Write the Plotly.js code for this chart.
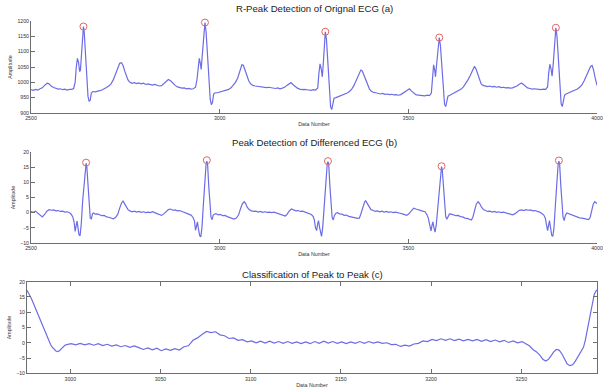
<!DOCTYPE html>
<html>
<head>
<meta charset="utf-8">
<script src="https://cdn.plot.ly/plotly-3.0.1.min.js"></script>
<style>html,body{margin:0;padding:0;background:#fff;}#chart{width:605px;height:392px;}</style>
</head>
<body>
<div id="chart"></div>
<script>
// ---- (a) original ECG ----
const ecgX = [2500,2506,2512,2518,2524,2530,2536,2543,2548,2554,2560,2566,2572,2578,2584,2590,2596,2602,2608,2613,2617,2620,2623,2626,2629,2631,2634,2637,2639,2641,2644,2648,2651,2654,2657,2660,2664,2670,2676,2682,2688,2694,2700,2706,2712,2718,2724,2730,2735,2740,2744,2748,2752,2757,2762,2768,2774,2780,2786,2792,2798,2804,2810,2816,2822,2828,2834,2840,2846,2852,2858,2864,2870,2876,2882,2888,2894,2900,2906,2912,2918,2924,2930,2936,2940,2943,2946,2949,2951,2954,2958,2961,2964,2968,2972,2975,2978,2981,2984,2988,2994,3000,3006,3012,3018,3024,3030,3036,3042,3048,3054,3059,3063,3067,3072,3077,3082,3088,3094,3100,3106,3112,3118,3124,3130,3136,3142,3148,3154,3160,3166,3172,3178,3184,3189,3194,3200,3206,3212,3218,3224,3230,3236,3242,3248,3254,3260,3263,3266,3269,3272,3274,3277,3280,3283,3287,3291,3294,3297,3300,3303,3308,3314,3320,3326,3332,3338,3344,3350,3356,3362,3368,3374,3378,3382,3387,3392,3397,3402,3408,3414,3420,3426,3432,3438,3444,3450,3456,3462,3468,3474,3480,3486,3492,3498,3503,3508,3514,3520,3526,3532,3538,3544,3550,3556,3561,3564,3567,3570,3572,3575,3579,3582,3585,3589,3593,3596,3599,3602,3605,3610,3616,3622,3628,3634,3640,3646,3652,3658,3664,3670,3675,3679,3683,3688,3693,3698,3704,3710,3716,3722,3728,3734,3740,3746,3752,3758,3764,3770,3776,3782,3788,3794,3800,3805,3810,3816,3822,3828,3834,3840,3846,3852,3858,3864,3869,3872,3875,3878,3881,3884,3888,3891,3894,3898,3902,3905,3908,3911,3914,3918,3924,3930,3936,3942,3948,3954,3960,3966,3972,3978,3983,3987,3991,3995,3999,4000];
const ecgY = [976,974,977,975,979,982,990,997,995,987,983,980,978,979,976,978,975,977,977,980,1000,1050,1078,1065,1035,1040,1110,1165,1182,1165,1100,1010,955,938,942,966,970,969,972,973,975,978,983,988,995,1008,1025,1045,1062,1064,1055,1038,1022,1008,1000,997,999,996,998,995,997,993,995,992,991,993,990,988,989,995,1003,1009,1005,997,990,985,983,981,982,979,980,978,979,984,1010,1050,1078,1060,1042,1090,1160,1195,1165,1080,990,945,927,935,962,966,966,968,970,972,975,977,982,990,1000,1015,1038,1058,1055,1040,1020,1005,995,990,988,987,986,984,985,983,984,982,981,980,982,979,981,984,990,996,999,993,986,981,978,976,977,975,975,974,976,975,982,1030,1060,1045,1018,1050,1120,1165,1140,1050,960,920,911,925,948,950,953,955,958,962,965,970,978,990,1005,1022,1040,1037,1025,1005,990,978,971,967,966,965,962,964,961,962,960,961,959,960,958,960,965,970,976,979,972,965,960,958,957,958,956,958,957,965,1020,1057,1040,1018,1060,1115,1146,1120,1040,960,928,921,940,955,958,962,965,970,975,978,985,995,1008,1022,1040,1052,1045,1030,1010,995,990,988,986,988,985,987,984,986,983,984,982,983,981,982,984,988,994,998,993,987,982,980,978,979,977,977,976,978,977,985,1030,1059,1045,1020,1060,1130,1178,1150,1060,970,930,921,935,958,962,965,968,972,975,978,984,992,1005,1020,1038,1052,1055,1040,1015,995,990];
const rPeakX = [2639,2961,3280,3582,3891];
const rPeakY = [1182,1195,1165,1146,1178];

// ---- (b) differenced ECG ----
const diffX = [2500,2506,2512,2518,2524,2530,2536,2542,2548,2554,2560,2566,2572,2578,2584,2590,2596,2602,2607,2611,2614,2617,2620,2622,2624,2627,2630,2633,2637,2641,2644,2646,2648,2651,2654,2657,2660,2663,2666,2670,2676,2682,2688,2694,2700,2706,2712,2718,2724,2730,2735,2740,2744,2748,2752,2757,2762,2768,2774,2780,2786,2792,2798,2804,2810,2816,2822,2828,2834,2840,2846,2852,2858,2864,2870,2876,2882,2888,2894,2900,2906,2912,2918,2924,2929,2933,2936,2939,2941,2944,2947,2950,2953,2957,2961,2964,2966,2968,2971,2974,2977,2980,2983,2986,2990,2996,3002,3008,3014,3020,3026,3032,3038,3044,3050,3055,3060,3065,3069,3073,3078,3084,3090,3096,3102,3108,3114,3120,3126,3132,3138,3144,3150,3156,3162,3168,3174,3179,3184,3190,3196,3202,3208,3214,3220,3226,3232,3238,3243,3248,3251,3254,3257,3260,3262,3265,3268,3270,3273,3277,3281,3285,3287,3289,3292,3295,3298,3301,3304,3308,3312,3318,3324,3330,3336,3342,3348,3354,3360,3366,3370,3374,3379,3384,3387,3391,3396,3401,3406,3412,3418,3424,3430,3436,3442,3448,3454,3460,3466,3472,3478,3484,3490,3496,3502,3508,3514,3520,3526,3532,3538,3544,3549,3553,3557,3560,3563,3565,3568,3571,3574,3578,3582,3586,3588,3590,3593,3596,3599,3602,3605,3609,3614,3620,3626,3632,3638,3644,3650,3656,3662,3667,3671,3675,3680,3685,3689,3694,3699,3704,3710,3716,3722,3728,3734,3740,3746,3752,3758,3764,3770,3776,3782,3788,3794,3800,3806,3812,3818,3824,3830,3836,3842,3848,3854,3859,3863,3866,3869,3872,3874,3877,3880,3883,3886,3890,3894,3897,3899,3901,3904,3907,3910,3913,3916,3920,3924,3930,3936,3942,3948,3954,3960,3966,3972,3978,3982,3986,3990,3994,3997,4000];
const diffY = [0.4,0.1,0.5,-0.2,-0.8,-1.4,-0.6,0.5,1.0,0.8,0.9,0.6,0.7,0.4,0.5,0.2,0.3,0.0,-0.6,-1.5,-3,-6.2,-4,-2.8,-4.5,-7.2,-7.6,-4,4,11,15.5,16.3,15,8,1,-1.8,-2.0,-0.3,-0.1,-0.5,-0.4,-0.8,-1.0,-0.9,-1.4,-1.5,-1.8,-2.0,-1.6,-0.5,1.5,3.2,3.8,3.0,1.8,1.0,0.6,0.3,0.5,0.2,0.4,0.1,0.3,0.0,0.2,0.0,0.3,-0.1,-0.3,-0.6,-0.9,-0.4,0.4,1.0,1.2,0.8,0.9,0.6,0.7,0.4,0.3,0.0,-0.3,-0.8,-1.5,-2.6,-5.8,-4.5,-3,-5.5,-7.6,-8.0,-5,3,11,16,17.0,16,9,2,-1.5,-2.3,-0.8,-0.5,-0.3,-0.7,-0.6,-1.0,-0.9,-1.3,-1.5,-1.9,-2.1,-1.8,-0.8,1.2,2.9,3.6,3.0,1.8,1.0,0.6,0.4,0.5,0.2,0.4,0.1,0.3,0.1,0.2,0.0,0.2,-0.1,-0.3,-0.5,-0.9,-1.1,-0.5,0.5,1.2,1.0,0.6,0.7,0.4,0.5,0.2,0.1,-0.2,-0.6,-1.3,-2.5,-5.0,-5.9,-3.5,-2.6,-5,-7.5,-7.8,-5,3,11,16,16.8,16,9,2,-1.5,-2.4,-1.0,-0.2,0.0,-0.4,-0.5,-0.9,-0.8,-1.2,-1.3,-1.6,-1.7,-1.9,-1.8,-0.5,1.8,3.5,3.9,3.0,1.8,1.0,0.8,0.4,0.6,0.3,0.5,0.2,0.4,0.1,0.3,0.0,0.2,-0.1,-0.2,-0.4,-0.6,-0.9,-0.3,0.8,1.5,1.2,0.9,0.8,0.5,0.3,-0.6,-1.8,-4,-6.0,-4,-3.0,-5,-6.4,-4,2,9,14,15.2,14,8,2,-1.2,-2.2,-1.2,-0.4,-0.5,-0.7,-1.0,-0.9,-1.3,-1.4,-1.8,-1.9,-2.2,-2.4,-1.5,0.5,2.8,3.6,3.0,1.8,1.0,0.7,0.4,0.5,0.2,0.4,0.1,0.3,0.0,0.2,0.0,-0.2,-0.4,-0.7,-0.4,0.3,0.8,0.9,0.7,1.0,0.8,0.9,0.6,0.7,0.5,0.2,-0.3,-0.8,-1.8,-3.5,-5.9,-4,-2.6,-5,-7.5,-7.8,-5,3,11,16,17.0,16,9,2,-1.5,-2.6,-1.0,-0.1,-0.3,-0.7,-0.9,-1.2,-1.4,-1.7,-1.8,-2.0,-2.1,-2.3,-1.5,0.5,2.8,3.6,3.3,3.0];
const dPeakX = [2646,2966,3287,3588,3899];
const dPeakY = [16.5,17.3,17.0,15.3,17.2];

// ---- (c) peak to peak segment ----
const p2pX = [2976,2977,2978,2979,2980,2981,2982,2983,2984,2985,2986,2987,2988,2989,2990,2991,2992,2993,2994,2995,2996,2997,2998,3000.5,3003,3005.5,3008,3010.5,3013,3015.5,3018,3020.5,3023,3025.5,3028,3030.5,3033,3035.5,3038,3040.5,3043,3045.5,3048,3050.5,3053,3055.5,3058,3060.5,3063,3065.5,3068,3070.5,3073,3075.5,3078,3080.5,3083,3085.5,3088,3090.5,3093,3095.5,3098,3100.5,3103,3105.5,3108,3110.5,3113,3115.5,3118,3120.5,3123,3125.5,3128,3130.5,3133,3135.5,3138,3140.5,3143,3145.5,3148,3150.5,3153,3155.5,3158,3160.5,3163,3165.5,3168,3170.5,3173,3175.5,3178,3180.5,3183,3185.5,3188,3190.5,3193,3195.5,3198,3200.5,3203,3205.5,3208,3210.5,3213,3215.5,3218,3220.5,3223,3225.5,3228,3230.5,3233,3235.5,3238,3240.5,3243,3245.5,3248,3250.5,3252.5,3254.5,3256.5,3258.5,3260.5,3262,3263.5,3265,3266.5,3268,3269.5,3271,3272.5,3274,3275.5,3277,3278.5,3280,3281.5,3283,3284.5,3285.5,3286.5,3287.5,3288.5,3289.5,3290.5,3291.5,3292];
const p2pY = [17.2,16.3,15.0,13.7,12.3,10.9,9.5,8.1,6.6,5.0,3.4,2.0,0.6,-0.5,-1.4,-2.2,-2.7,-2.9,-2.6,-2.0,-1.3,-0.8,-0.6,-0.3,-0.7,-0.2,-0.7,-0.3,-0.8,-0.3,-0.9,-0.5,-1.1,-0.7,-1.3,-0.9,-1.5,-1.0,-1.6,-2.2,-1.7,-2.3,-1.8,-2.6,-2.0,-2.5,-1.9,-2.4,-1.3,-1.0,0.8,1.6,2.7,3.7,3.3,3.6,2.6,2.3,1.4,1.6,0.8,1.0,0.3,0.6,0.0,0.5,-0.1,0.5,-0.1,0.4,-0.2,0.4,-0.2,0.3,-0.3,0.3,-0.3,0.4,-0.2,0.5,-0.1,0.4,-0.2,0.3,-0.3,0.3,-0.2,0.4,-0.2,0.4,-0.1,0.3,-0.2,0.0,-0.6,-0.5,-1.2,-0.8,-1.1,-0.4,-0.2,0.6,0.4,1.1,0.7,1.3,0.8,1.3,0.7,1.2,0.6,1.1,0.6,1.1,0.5,1.0,0.4,0.9,0.3,0.8,0.1,0.6,0.0,0.4,-0.3,-1.0,-2.2,-3.0,-4.2,-5.4,-6.0,-5.5,-4.3,-3.0,-2.2,-2.4,-3.6,-5.5,-7.0,-7.5,-7.2,-6.0,-4.6,-3.2,-1.5,0.8,3.8,7.5,11.0,14.0,15.9,17.0,17.3];

const ticksAB = [2500,3000,3500,4000];
const ticksC = [3000,3050,3100,3150,3200,3250];
const titles = ['R-Peak Detection of Orignal ECG (a)','Peak Detection of Differenced ECG (b)','Classification of Peak to Peak (c)'];

const lineColor = '#6c6ce6';
const peakColor = '#e06666';
const axisCol = '#6e6e6e';
const tickFont = {family:'Liberation Sans, Arial, sans-serif', size:5.2, color:'#333'};
const labFont = {family:'Liberation Sans, Arial, sans-serif', size:5.3, color:'#333'};
const titFont = {family:'Liberation Sans, Arial, sans-serif', size:9.6, color:'#222'};

const traces = [
  {x:ecgX, y:ecgY, type:'scatter', mode:'lines', line:{color:lineColor, width:1.2}, xaxis:'x', yaxis:'y', hoverinfo:'skip'},
  {x:rPeakX, y:rPeakY, type:'scatter', mode:'markers', cliponaxis:false, marker:{symbol:'circle-open', size:7, color:peakColor, line:{width:1, color:peakColor}}, xaxis:'x', yaxis:'y'},
  {x:diffX, y:diffY, type:'scatter', mode:'lines', line:{color:lineColor, width:1.2}, xaxis:'x2', yaxis:'y2', hoverinfo:'skip'},
  {x:dPeakX, y:dPeakY, type:'scatter', mode:'markers', cliponaxis:false, marker:{symbol:'circle-open', size:7, color:peakColor, line:{width:1, color:peakColor}}, xaxis:'x2', yaxis:'y2'},
  {x:p2pX, y:p2pY, type:'scatter', mode:'lines', line:{color:lineColor, width:1.2}, xaxis:'x3', yaxis:'y3', hoverinfo:'skip'}
];

function xax(domain, anchor, range, ticks, mirror){
  return {domain:domain, anchor:anchor, range:range, tickvals:ticks, ticktext:ticks.map(String),
    showline:true, linecolor:axisCol, linewidth:1, ticks:'inside', ticklen:4, tickcolor:axisCol,
    mirror:mirror, showgrid:false, zeroline:false, tickfont:tickFont, automargin:false,
    title:{text:'Data Number', font:labFont, standoff:2}};
}
function yax(domain, anchor, range, dtick, mirror){
  return {domain:domain, anchor:anchor, range:range, dtick:dtick, tick0:range[0],
    showline:true, linecolor:axisCol, linewidth:1, ticks:'inside', ticklen:4, tickcolor:axisCol,
    mirror:mirror, showgrid:false, zeroline:false, tickfont:tickFont, automargin:false,
    title:{text:'Amplitude', font:labFont, standoff:4}};
}

const layout = {
  width:605, height:392, margin:{l:0,r:0,t:0,b:0}, paper_bgcolor:'#fff', plot_bgcolor:'#fff',
  showlegend:false,
  xaxis: xax([31/605, 597/605], 'y', [2500,4000], ticksAB, false),
  yaxis: yax([1-113/392, 1-21/392], 'x', [900,1200], 50, false),
  xaxis2: xax([31/605, 597/605], 'y2', [2500,4000], ticksAB, false),
  yaxis2: yax([1-243/392, 1-152/392], 'x2', [-10,20], 5, false),
  xaxis3: xax([27/605, 597/605], 'y3', [2976,3292], ticksC, 'ticks'),
  yaxis3: yax([1-373.3/392, 1-281.7/392], 'x3', [-10,20], 5, 'ticks'),
  annotations: [
    {text:titles[0], xref:'paper', yref:'paper', x:314/605, y:1-8/392, showarrow:false, xanchor:'center', yanchor:'middle', font:titFont},
    {text:titles[1], xref:'paper', yref:'paper', x:314/605, y:1-142/392, showarrow:false, xanchor:'center', yanchor:'middle', font:titFont},
    {text:titles[2], xref:'paper', yref:'paper', x:312/605, y:1-274/392, showarrow:false, xanchor:'center', yanchor:'middle', font:titFont}
  ]
};

Plotly.newPlot('chart', traces, layout, {staticPlot:true, displayModeBar:false});
</script>
</body>
</html>
